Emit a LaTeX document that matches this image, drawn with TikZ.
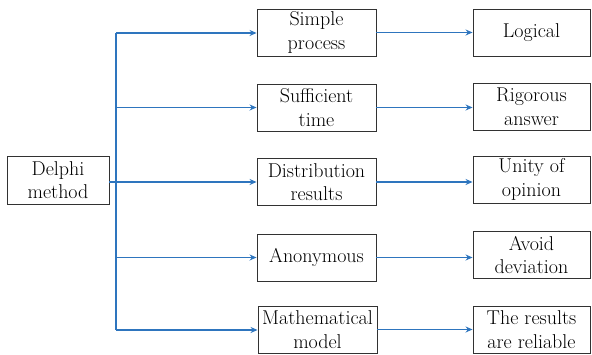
\documentclass[tikz,border=0pt]{standalone}
\usetikzlibrary{arrows.meta}
\definecolor{linkblue}{RGB}{46,117,190}
\definecolor{boxgray}{RGB}{50,50,50}
\tikzset{
  box/.style={draw=boxgray, line width=0.9pt, minimum height=47pt, inner sep=1pt,
    align=center, font=\fontsize{20}{23.5}\selectfont},
  midbox/.style={box, minimum width=119pt},
  endbox/.style={box, minimum width=117pt},
  link/.style={draw=linkblue, line width=1.2pt},
  arrowlink/.style={link, -{Stealth[length=7pt,width=6pt]}}
}
\begin{document}
\begin{tikzpicture}[x=1pt,y=1pt]
\useasboundingbox (0,0) rectangle (592,355);
% left
\node[box, minimum width=102pt, minimum height=48pt] (d) at (58,175) {Delphi\\method};
% middle
\node[midbox] (m1) at (316.5,322.5) {Simple\\process};
\node[midbox] (m2) at (316.5,247.5) {Sufficient\\time};
\node[midbox] (m3) at (316.5,173) {Distribution\\results};
\node[midbox] (m4) at (316.5,97.5) {Anonymous};
\node[midbox] (m5) at (317.5,25.5) {Mathematical\\model};
% right
\node[endbox] (r1) at (531.5,322.5) {Logical};
\node[endbox] (r2) at (531.5,248) {Rigorous\\answer};
\node[endbox] (r3) at (531.5,175.5) {Unity of\\opinion};
\node[endbox] (r4) at (531.5,100) {Avoid\\deviation};
\node[endbox] (r5) at (531.5,25.5) {The results\\are reliable};
% spine
\coordinate (st) at (116,322);
\coordinate (sb) at (116,25);
\draw[link] (st) -- (sb);
\draw[arrowlink] (st) -- (st -| m1.west);
\draw[arrowlink] (st |- m2.west) -- (m2.west);
\draw[arrowlink] (d.east |- m3.west) -- (m3.west);
\draw[arrowlink] (st |- m4.west) -- (m4.west);
\draw[arrowlink] (sb) -- (sb -| m5.west);
% right arrows
\draw[arrowlink] (m1.east) -- (m1.east -| r1.west);
\draw[arrowlink] (m2.east) -- (m2.east -| r2.west);
\draw[arrowlink] (m3.east) -- (m3.east -| r3.west);
\draw[arrowlink] (m4.east) -- (m4.east -| r4.west);
\draw[arrowlink] (m5.east) -- (m5.east -| r5.west);
\end{tikzpicture}
\end{document}
